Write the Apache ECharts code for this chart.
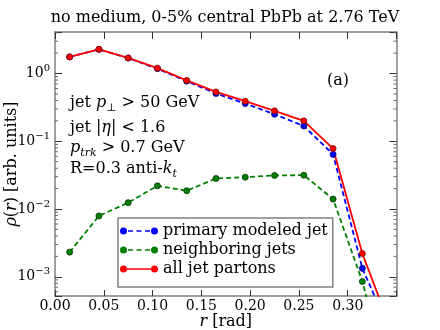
<!DOCTYPE html>
<html>
<head>
<meta charset="utf-8">
<script src="https://cdn.jsdelivr.net/npm/echarts@6/dist/echarts.min.js"></script>
<style>
html, body { margin: 0; padding: 0; background: #fff; }
#main { width: 440px; height: 330px; }
</style>
</head>
<body>
<div id="main"></div>
<script>
// r bins [rad]
var radius = [0.015, 0.045, 0.075, 0.105, 0.135, 0.165, 0.195, 0.225, 0.255, 0.285, 0.315, 0.345];
// rho(r) values
var primaryJet = [1.757, 2.272, 1.688, 1.178, 0.771, 0.507, 0.36, 0.25, 0.168, 0.064, 0.00133, 0.00014];
var neighborJets = [0.00231, 0.0079, 0.0124, 0.022, 0.0186, 0.0282, 0.0295, 0.0313, 0.0316, 0.014, 0.00085, 0.00002];
var allPartons = [1.76, 2.28, 1.70, 1.20, 0.79, 0.535, 0.39, 0.281, 0.20, 0.078, 0.0022, 0.00016];
var seriesNames = ['primary modeled jet', 'neighboring jets', 'all jet partons'];
var xMin = 0, xMax = 0.35, xStep = 0.05;
var yMin = 5.2e-4, yMax = 4.1;

var serif = 'DejaVu Serif';
var frameColor = '#808080';
var tickColor = '#333';

function pairs(vals) {
    return radius.map(function (r, i) { return [r, vals[i]]; });
}

function circlePath(cx) {
    return 'M' + cx + ',0 A3.5,3.5 0 1 1 ' + cx + ',7 A3.5,3.5 0 1 1 ' + cx + ',0 Z ';
}
var dashIcon = 'path://' + circlePath(3.5) + circlePath(34.5) +
    'M8,2.7 L13,2.7 L13,4.3 L8,4.3 Z M16.5,2.7 L21.5,2.7 L21.5,4.3 L16.5,4.3 Z M25,2.7 L30,2.7 L30,4.3 L25,4.3 Z';
var solidIcon = 'path://' + circlePath(3.5) + circlePath(34.5) + 'M7,2.7 L31,2.7 L31,4.3 L7,4.3 Z';

function yLabel(v) {
    var e = Math.log10(v);
    var r = Math.round(e);
    if (Math.abs(e - r) > 1e-6) return '';
    return '{b|10}{s|' + (r < 0 ? '\u2212' + (-r) : r) + '}';
}

var nameRich = {
    i: { fontFamily: serif, fontSize: 16, fontStyle: 'italic', color: '#000', lineHeight: 18 },
    n: { fontFamily: serif, fontSize: 16, color: '#000', lineHeight: 18 }
};

var chart = echarts.init(document.getElementById('main'));
chart.setOption({
    animation: false,
    grid: { left: 55, right: 43.5, top: 32, bottom: 34, containLabel: false, outerBoundsMode: 'none' },
    legend: {
        orient: 'vertical',
        left: 118,
        top: 218,
        padding: [5, 5, 10, 2],
        itemWidth: 38,
        itemHeight: 7,
        itemGap: 3,
        backgroundColor: '#fff',
        borderColor: frameColor,
        borderWidth: 1.5,
        selectedMode: false,
        itemStyle: { borderWidth: 0 },
        textStyle: { fontFamily: serif, fontSize: 16, color: '#000' },
        data: [
            { name: seriesNames[0], icon: dashIcon },
            { name: seriesNames[1], icon: dashIcon },
            { name: seriesNames[2], icon: solidIcon }
        ]
    },
    xAxis: [{
        type: 'value',
        min: xMin, max: xMax, interval: xStep,
        position: 'bottom',
        name: '{i|r}{n| [rad]}',
        nameLocation: 'middle',
        nameGap: 17,
        nameMoveOverlap: false,
        nameTextStyle: { rich: nameRich },
        axisLine: { onZero: false, lineStyle: { color: frameColor, width: 1.5 } },
        axisTick: { inside: true, length: 6, lineStyle: { color: tickColor } },
        axisLabel: {
            margin: 3,
            fontFamily: serif, fontSize: 14, color: '#000',
            formatter: function (v) { return v > 0.31 ? '' : v.toFixed(2); }
        },
        splitLine: { show: false }
    }, {
        type: 'value',
        min: xMin, max: xMax, interval: xStep,
        position: 'top',
        axisLine: { onZero: false, lineStyle: { color: frameColor, width: 1.5 } },
        axisTick: { inside: true, length: 7, lineStyle: { color: tickColor } },
        axisLabel: { show: false },
        splitLine: { show: false }
    }],
    yAxis: [{
        type: 'log',
        logBase: 10,
        min: yMin, max: yMax,
        position: 'left',
        name: '{i|\u03c1}{n|(}{i|r}{n|) [arb. units]}',
        nameLocation: 'middle',
        nameRotate: 90,
        nameGap: 34,
        nameMoveOverlap: false,
        nameTextStyle: { rich: nameRich },
        axisLine: { onZero: false, lineStyle: { color: frameColor, width: 1.5 } },
        axisTick: { inside: true, length: 7, lineStyle: { color: tickColor } },
        axisLabel: {
            margin: 5,
            formatter: yLabel,
            rich: {
                b: { fontFamily: serif, fontSize: 14, color: '#000', lineHeight: 20, verticalAlign: 'middle' },
                s: { fontFamily: serif, fontSize: 10, color: '#000', lineHeight: 10, verticalAlign: 'top' }
            }
        },
        splitLine: { show: false }
    }, {
        type: 'log',
        logBase: 10,
        min: yMin, max: yMax,
        position: 'right',
        axisLine: { onZero: false, lineStyle: { color: frameColor, width: 1.5 } },
        axisTick: { inside: true, length: 7, lineStyle: { color: tickColor } },
        axisLabel: { show: false },
        splitLine: { show: false }
    }],
    series: [{
        name: seriesNames[0],
        type: 'line',
        data: pairs(primaryJet),
        symbol: 'circle',
        symbolSize: 6,
        lineStyle: { color: '#0000ff', width: 1.8, type: [5, 3] },
        itemStyle: { color: '#0000ff', borderColor: '#00007a', borderWidth: 0.8 }
    }, {
        name: seriesNames[1],
        type: 'line',
        data: pairs(neighborJets),
        symbol: 'circle',
        symbolSize: 6,
        lineStyle: { color: '#008000', width: 1.8, type: [5, 3] },
        itemStyle: { color: '#008000', borderColor: '#003300', borderWidth: 0.8 }
    }, {
        name: seriesNames[2],
        type: 'line',
        data: pairs(allPartons),
        symbol: 'circle',
        symbolSize: 6,
        lineStyle: { color: '#ff0000', width: 1.8 },
        itemStyle: { color: '#ff0000', borderColor: '#7a0000', borderWidth: 0.8 }
    }]
});

// title, annotations + log minor ticks
var rich = {
    n: { fontFamily: serif, fontSize: 16, fill: '#000', lineHeight: 22 },
    i: { fontFamily: serif, fontSize: 16, fontStyle: 'italic', fill: '#000', lineHeight: 22 },
    sb: { fontFamily: serif, fontSize: 11, fill: '#000', lineHeight: 11, verticalAlign: 'bottom' },
    sbi: { fontFamily: serif, fontSize: 11, fontStyle: 'italic', fill: '#000', lineHeight: 11, verticalAlign: 'bottom' }
};
var notes = [
    ['{n|jet }{i|p}{sb|\u22a5}{n| > 50 GeV}', 102.5],
    ['{n|jet |}{i|\u03b7}{n|| < 1.6}', 127.5],
    ['{i|p}{sbi|trk}{n| > 0.7 GeV}', 147.5],
    ['{n|R=0.3 anti-}{i|k}{sbi|t}', 168.5]
];
var elements = notes.map(function (t) {
    return {
        type: 'text', x: 70, y: t[1], z: 10,
        style: { text: t[0], rich: rich, align: 'left', verticalAlign: 'middle' }
    };
});
elements.push({
    type: 'text', x: 338, y: 80.7, z: 10,
    style: { text: '(a)', fontFamily: serif, fontSize: 16, fill: '#000', align: 'center', verticalAlign: 'middle' }
});
elements.push({
    type: 'text', x: 225, y: 18, z: 10,
    style: { text: 'no medium, 0-5% central PbPb at 2.76 TeV', fontFamily: serif, fontSize: 16, fill: '#000', align: 'center', verticalAlign: 'middle' }
});

var xl = chart.convertToPixel({ xAxisIndex: 0 }, xMin);
var xr = chart.convertToPixel({ xAxisIndex: 0 }, xMax);
for (var d = -4; d <= 0; d++) {
    for (var k = 2; k <= 9; k++) {
        var v = k * Math.pow(10, d);
        if (v <= yMin || v >= yMax) continue;
        var py = chart.convertToPixel({ yAxisIndex: 0 }, v);
        elements.push({ type: 'line', z: 5, shape: { x1: xl, y1: py, x2: xl + 3, y2: py }, style: { stroke: '#666', lineWidth: 1 } });
        elements.push({ type: 'line', z: 5, shape: { x1: xr - 3, y1: py, x2: xr, y2: py }, style: { stroke: '#666', lineWidth: 1 } });
    }
}
chart.setOption({ graphic: elements });
</script>
</body>
</html>
